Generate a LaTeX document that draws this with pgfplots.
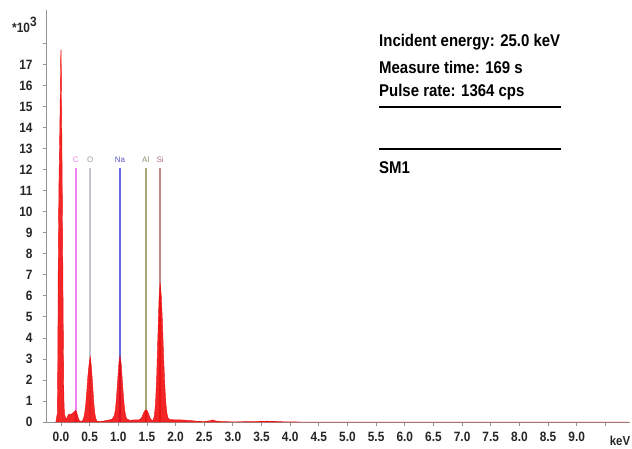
\documentclass[border=0pt]{standalone}
\usepackage{pgfplots}
\pgfplotsset{compat=1.18}
\usepackage{fontspec}
\setmainfont{Liberation Sans}
\newfontfamily\narrowsans{Liberation Sans}[FakeStretch=0.88]

\definecolor{specred}{HTML}{F00000}
\definecolor{cline}{HTML}{F080F0}
\definecolor{oline}{HTML}{C4C4D4}
\definecolor{naline}{HTML}{6868E8}
\definecolor{alline}{HTML}{A8A878}
\definecolor{siline}{HTML}{C88888}

\begin{document}
\begin{tikzpicture}[x=1pt,y=1pt]
\useasboundingbox (0,0) rectangle (632,448);
\begin{axis}[
  at={(47pt,26pt)}, anchor=south west,
  scale only axis, width=583pt, height=412pt,
  xmin=-0.244, xmax=9.93, ymin=0, ymax=19.6,
  axis x line*=bottom, axis y line*=left,
  axis line style={draw=gray!85, line width=1pt},
  tick style={draw=gray!85, line width=0.8pt},
  tick align=outside, major tick length=4pt,
  xtick={0,0.5,1,1.5,2,2.5,3,3.5,4,4.5,5,5.5,6,6.5,7,7.5,8,8.5,9,9.5},
  xticklabels={0.0,0.5,1.0,1.5,2.0,2.5,3.0,3.5,4.0,4.5,5.0,5.5,6.0,6.5,7.0,7.5,8.0,8.5,9.0,{}},
  ytick={0,1,2,3,4,5,6,7,8,9,10,11,12,13,14,15,16,17,18},
  yticklabels={0,1,2,3,4,5,6,7,8,9,10,11,12,13,14,15,16,17,{}},
  tick label style={font=\narrowsans\fontsize{13.5}{13.5}\selectfont\bfseries, text=black!85},
  xticklabel style={yshift=-3pt},
  yticklabel style={xshift=-7pt},
]
% element marker lines (beneath the spectrum)
\addplot[cline, line width=1.6pt] coordinates {(0.26,0) (0.26,12.1)};
\addplot[oline, line width=1.6pt] coordinates {(0.51,0) (0.51,12.1)};
\addplot[naline, line width=1.6pt] coordinates {(1.03,0) (1.03,12.1)};
\addplot[alline, line width=1.6pt] coordinates {(1.48,0) (1.48,12.1)};
\addplot[siline, line width=1.6pt] coordinates {(1.73,0) (1.73,12.1)};

% EDS spectrum (counts in thousands vs energy in keV)
\addplot[draw=specred, fill=specred, line width=0.4pt, fill opacity=0.85, draw opacity=0.9] coordinates {
(-0.09,0) (-0.065,0.4) (-0.058,2) (-0.052,5) (-0.047,8.2) (-0.035,11.5) (-0.02,14)
(-0.01,16.2) (-0.003,17.7) (0.003,17.7) (0.01,15) (0.02,12) (0.03,8.2) (0.04,4.5)
(0.05,1.2) (0.06,0.4) (0.08,0.2) (0.10,0.15)
(0.12,0.3) (0.14,0.38) (0.17,0.35) (0.20,0.42) (0.23,0.48) (0.25,0.55) (0.27,0.5)
(0.29,0.3) (0.31,0.12) (0.33,0.05) (0.35,0.03)
(0.37,0.04) (0.39,0.14) (0.41,0.36) (0.43,0.78) (0.45,1.43) (0.47,2.2) (0.49,2.75)
(0.50,2.95) (0.51,3.12) (0.52,2.9) (0.53,2.65) (0.55,1.89) (0.57,1.01) (0.59,0.42)
(0.61,0.14) (0.63,0.04)
(0.68,0.02) (0.74,0.04) (0.80,0.08) (0.85,0.1) (0.89,0.14)
(0.91,0.2) (0.93,0.3) (0.95,0.6) (0.97,1.2) (0.99,2.0) (1.01,2.8) (1.02,3.0)
(1.03,3.14) (1.04,2.95) (1.05,2.8) (1.07,2.0) (1.09,1.2) (1.11,0.6) (1.13,0.28)
(1.15,0.15)
(1.20,0.08) (1.28,0.1) (1.35,0.1)
(1.38,0.12) (1.41,0.22) (1.43,0.35) (1.45,0.48) (1.47,0.56) (1.49,0.58) (1.51,0.52)
(1.53,0.38) (1.55,0.22) (1.57,0.12) (1.59,0.08)
(1.61,0.1) (1.63,0.3) (1.65,0.9) (1.67,2.15) (1.69,4.0) (1.71,5.8) (1.72,6.2)
(1.73,6.6) (1.74,6.3) (1.75,6.0) (1.77,4.8) (1.79,3.2) (1.81,1.83) (1.83,0.9)
(1.85,0.4) (1.87,0.18) (1.90,0.12)
(2.00,0.1) (2.10,0.1) (2.20,0.08) (2.30,0.06) (2.40,0.03) (2.50,0.02) (2.60,0.06)
(2.65,0.1) (2.70,0.05) (2.80,0.02) (3.00,0.01) (3.40,0.02) (3.60,0.04) (3.70,0.03)
(3.90,0.01) (4.20,0) (9.90,0)
} \closedcycle;

\begin{scope}[every node/.style={font=\fontsize{8}{8}\selectfont, anchor=base}]
\node[text=cline] at (axis cs:0.26,12.35) {C};
\node[text=oline!80!black] at (axis cs:0.51,12.35) {O};
\node[text=naline!85!black] at (axis cs:1.03,12.35) {Na};
\node[text=alline!85!black] at (axis cs:1.48,12.35) {Al};
\node[text=siline!85!black] at (axis cs:1.73,12.35) {Si};
\end{scope}
\end{axis}

% axis unit labels
\node[anchor=base, font=\narrowsans\fontsize{13}{13}\selectfont\bfseries, text=black!85] at (620,3) {keV};
\node[anchor=base west, font=\narrowsans\fontsize{13.5}{13.5}\selectfont\bfseries, text=black!85, inner sep=0pt] at (12,415.3) {*10\raisebox{6pt}{3}};

% measurement info
\begin{scope}[every node/.style={anchor=base west, inner sep=0pt, font=\narrowsans\fontsize{17}{17}\selectfont\bfseries}]
\node at (379,401.3) {Incident energy: 25.0 keV};
\node at (379,374.7) {Measure time: 169 s};
\node at (379,351) {Pulse rate: 1364 cps};
\node at (379,275) {SM1};
\end{scope}
\draw[line width=1.6pt] (379,340.7) -- (561,340.7);
\draw[line width=1.6pt] (379,298.7) -- (561,298.7);
\end{tikzpicture}
\end{document}
